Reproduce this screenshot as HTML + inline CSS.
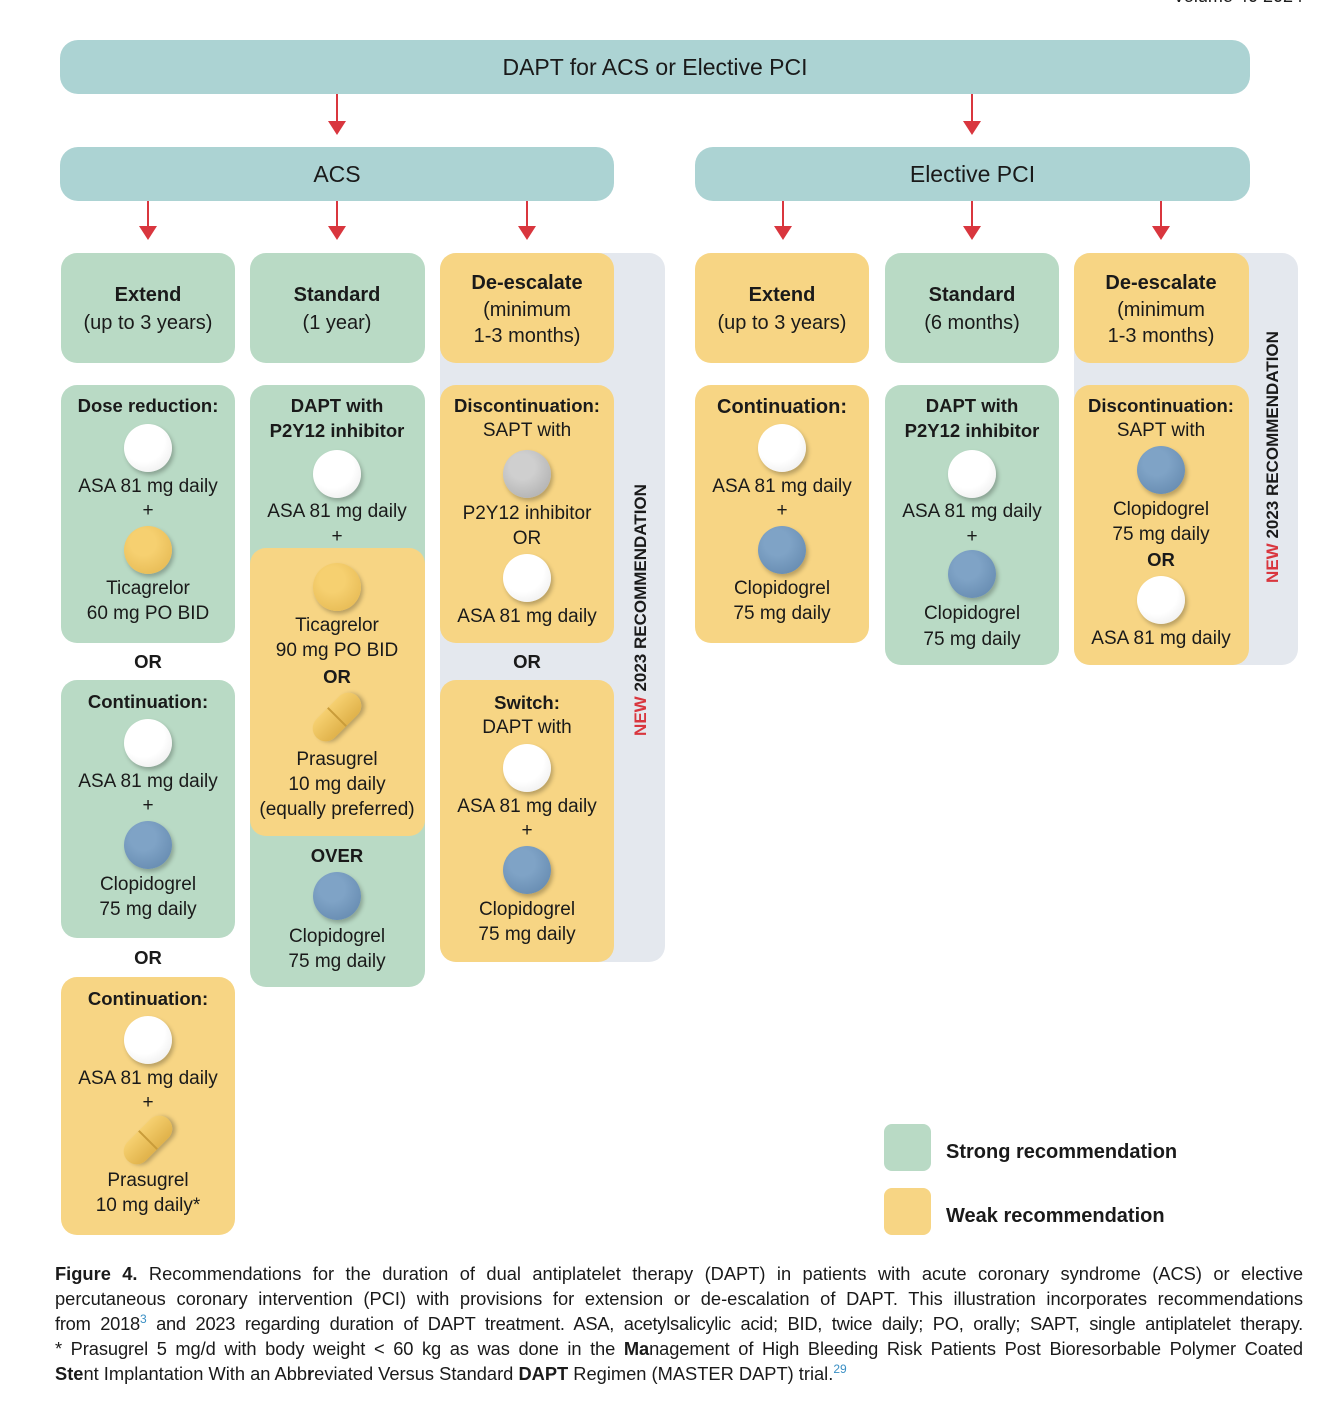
<!DOCTYPE html>
<html><head><meta charset="utf-8"><style>
*{margin:0;padding:0;box-sizing:border-box}
body{width:1334px;height:1403px;background:#fff;position:relative;overflow:hidden;font-family:"Liberation Sans",sans-serif;color:#1a1a1a}
div{position:absolute}
.bar{background:#acd3d3;border-radius:18px;text-align:center;font-size:23px;line-height:54px;height:54px}
.b{border-radius:16px}
.g{background:#b9dac5}.y{background:#f7d584}
.gp{background:#e4e8ee;border-radius:16px}
.t{width:200px;height:26px;line-height:26px;text-align:center;font-size:19px;white-space:nowrap}
.h{font-size:20px;font-weight:bold}
.bd{font-weight:bold;font-size:18.5px}
.p{width:48px;height:48px;border-radius:50%;box-shadow:2px 3px 4px rgba(0,0,0,.25)}
.w{background:radial-gradient(circle at 40% 35%,#fff 50%,#e6e6e6 100%)}
.yl{background:radial-gradient(circle at 40% 35%,#f6d070 30%,#e2b44c 100%)}
.bl{background:radial-gradient(circle at 40% 35%,#7fa3c6 30%,#5f84aa 100%)}
.gr{background:radial-gradient(circle at 40% 35%,#cfcfcf 30%,#a8a8a8 100%)}
.cap{width:58px;height:26px;border-radius:13px;background:linear-gradient(#f6d070,#e0b24a);transform:rotate(-45deg);box-shadow:2px 3px 4px rgba(0,0,0,.25)}
.cap:after{content:"";position:absolute;left:28px;top:0;width:1.5px;height:26px;background:#c99c3a}
.ar{width:2px;background:#d9363e}
.ah{width:0;height:0;border-left:9px solid transparent;border-right:9px solid transparent;border-top:14px solid #d9363e}
.v{transform:rotate(-90deg);transform-origin:center;font-weight:bold;font-size:17px;white-space:nowrap;width:300px;text-align:center;height:22px;line-height:22px}
.capt{left:55px;width:1248px;font-family:"Liberation Sans Narrow","Liberation Sans",sans-serif;font-size:18.3px;line-height:25px;height:25px;text-align:justify;text-align-last:justify;white-space:nowrap}
sup{color:#3a8fc4;font-size:12px;line-height:0;vertical-align:7px}
</style></head><body>
<div style="right:31px;top:-14px;font-size:18px">Volume 40 2024</div>

<div class="bar" style="left:60px;top:40px;width:1190px">DAPT for ACS or Elective PCI</div>
<div class="bar" style="left:60px;top:147px;width:554px">ACS</div>
<div class="bar" style="left:695px;top:147px;width:555px">Elective PCI</div>

<div class="ar" style="left:336px;top:94px;height:30px"></div><div class="ah" style="left:328px;top:121px"></div>
<div class="ar" style="left:971px;top:94px;height:30px"></div><div class="ah" style="left:963px;top:121px"></div>
<div class="ar" style="left:147px;top:201px;height:27px"></div><div class="ah" style="left:139px;top:226px"></div>
<div class="ar" style="left:336px;top:201px;height:27px"></div><div class="ah" style="left:328px;top:226px"></div>
<div class="ar" style="left:526px;top:201px;height:27px"></div><div class="ah" style="left:518px;top:226px"></div>
<div class="ar" style="left:782px;top:201px;height:27px"></div><div class="ah" style="left:774px;top:226px"></div>
<div class="ar" style="left:971px;top:201px;height:27px"></div><div class="ah" style="left:963px;top:226px"></div>
<div class="ar" style="left:1160px;top:201px;height:27px"></div><div class="ah" style="left:1152px;top:226px"></div>

<div class="gp" style="left:440px;top:253px;width:225px;height:709px"></div>
<div class="gp" style="left:1074px;top:253px;width:224px;height:412px"></div>

<div class="b g" style="left:61px;top:253px;width:174px;height:110px"></div>
<div class="b g" style="left:250px;top:253px;width:175px;height:110px"></div>
<div class="b y" style="left:440px;top:253px;width:174px;height:110px"></div>
<div class="b y" style="left:695px;top:253px;width:174px;height:110px"></div>
<div class="b g" style="left:885px;top:253px;width:174px;height:110px"></div>
<div class="b y" style="left:1074px;top:253px;width:175px;height:110px"></div>
<div class="t h" style="left:48px;top:282px">Extend</div><div class="t" style="left:48px;top:310px;font-size:20px">(up to 3 years)</div>
<div class="t h" style="left:237px;top:282px">Standard</div><div class="t" style="left:237px;top:310px;font-size:20px">(1 year)</div>
<div class="t h" style="left:427px;top:270px">De-escalate</div><div class="t" style="left:427px;top:297px;font-size:20px">(minimum</div><div class="t" style="left:427px;top:323px;font-size:20px">1-3 months)</div>
<div class="t h" style="left:682px;top:282px">Extend</div><div class="t" style="left:682px;top:310px;font-size:20px">(up to 3 years)</div>
<div class="t h" style="left:872px;top:282px">Standard</div><div class="t" style="left:872px;top:310px;font-size:20px">(6 months)</div>
<div class="t h" style="left:1061px;top:270px">De-escalate</div><div class="t" style="left:1061px;top:297px;font-size:20px">(minimum</div><div class="t" style="left:1061px;top:323px;font-size:20px">1-3 months)</div>

<div class="b g" style="left:61px;top:385px;width:174px;height:258px"></div>
<div class="t bd" style="left:48px;top:393px">Dose reduction:</div>
<div class="p w" style="left:124px;top:424px"></div>
<div class="t" style="left:48px;top:474px">ASA 81 mg daily</div>
<div class="t" style="left:48px;top:498px">+</div>
<div class="p yl" style="left:124px;top:526px"></div>
<div class="t" style="left:48px;top:576px">Ticagrelor</div>
<div class="t" style="left:48px;top:601px">60 mg PO BID</div>
<div class="t bd" style="left:48px;top:649px">OR</div>
<div class="b g" style="left:61px;top:680px;width:174px;height:258px"></div>
<div class="t bd" style="left:48px;top:689px">Continuation:</div>
<div class="p w" style="left:124px;top:719px"></div>
<div class="t" style="left:48px;top:769px">ASA 81 mg daily</div>
<div class="t" style="left:48px;top:793px">+</div>
<div class="p bl" style="left:124px;top:821px"></div>
<div class="t" style="left:48px;top:872px">Clopidogrel</div>
<div class="t" style="left:48px;top:897px">75 mg daily</div>
<div class="t bd" style="left:48px;top:945px">OR</div>
<div class="b y" style="left:61px;top:977px;width:174px;height:258px"></div>
<div class="t bd" style="left:48px;top:986px">Continuation:</div>
<div class="p w" style="left:124px;top:1016px"></div>
<div class="t" style="left:48px;top:1066px">ASA 81 mg daily</div>
<div class="t" style="left:48px;top:1090px">+</div>
<div class="cap" style="left:119px;top:1127px"></div>
<div class="t" style="left:48px;top:1168px">Prasugrel</div>
<div class="t" style="left:48px;top:1193px">10 mg daily*</div>

<div class="b g" style="left:250px;top:385px;width:175px;height:602px"></div>
<div class="b y" style="left:250px;top:548px;width:175px;height:288px"></div>
<div class="t bd" style="left:237px;top:393px">DAPT with</div>
<div class="t bd" style="left:237px;top:418px">P2Y12 inhibitor</div>
<div class="p w" style="left:313px;top:450px"></div>
<div class="t" style="left:237px;top:499px">ASA 81 mg daily</div>
<div class="t" style="left:237px;top:524px">+</div>
<div class="p yl" style="left:313px;top:563px"></div>
<div class="t" style="left:237px;top:613px">Ticagrelor</div>
<div class="t" style="left:237px;top:638px">90 mg PO BID</div>
<div class="t bd" style="left:237px;top:664px">OR</div>
<div class="cap" style="left:308px;top:704px"></div>
<div class="t" style="left:237px;top:747px">Prasugrel</div>
<div class="t" style="left:237px;top:772px">10 mg daily</div>
<div class="t" style="left:237px;top:797px">(equally preferred)</div>
<div class="t bd" style="left:237px;top:843px">OVER</div>
<div class="p bl" style="left:313px;top:872px"></div>
<div class="t" style="left:237px;top:924px">Clopidogrel</div>
<div class="t" style="left:237px;top:949px">75 mg daily</div>

<div class="b y" style="left:440px;top:385px;width:174px;height:258px"></div>
<div class="t bd" style="left:427px;top:393px">Discontinuation:</div>
<div class="t" style="left:427px;top:418px">SAPT with</div>
<div class="p gr" style="left:503px;top:450px"></div>
<div class="t" style="left:427px;top:501px">P2Y12 inhibitor</div>
<div class="t" style="left:427px;top:526px">OR</div>
<div class="p w" style="left:503px;top:554px"></div>
<div class="t" style="left:427px;top:604px">ASA 81 mg daily</div>
<div class="t bd" style="left:427px;top:649px">OR</div>
<div class="b y" style="left:440px;top:680px;width:174px;height:282px"></div>
<div class="t bd" style="left:427px;top:690px">Switch:</div>
<div class="t" style="left:427px;top:715px">DAPT with</div>
<div class="p w" style="left:503px;top:744px"></div>
<div class="t" style="left:427px;top:794px">ASA 81 mg daily</div>
<div class="t" style="left:427px;top:818px">+</div>
<div class="p bl" style="left:503px;top:846px"></div>
<div class="t" style="left:427px;top:897px">Clopidogrel</div>
<div class="t" style="left:427px;top:922px">75 mg daily</div>
<div class="v" style="left:491px;top:599px"><span style="color:#d9363e">NEW</span> 2023 RECOMMENDATION</div>

<div class="b y" style="left:695px;top:385px;width:174px;height:258px"></div>
<div class="t bd" style="left:682px;top:394px;font-size:20px">Continuation:</div>
<div class="p w" style="left:758px;top:424px"></div>
<div class="t" style="left:682px;top:474px">ASA 81 mg daily</div>
<div class="t" style="left:682px;top:498px">+</div>
<div class="p bl" style="left:758px;top:526px"></div>
<div class="t" style="left:682px;top:576px">Clopidogrel</div>
<div class="t" style="left:682px;top:601px">75 mg daily</div>

<div class="b g" style="left:885px;top:385px;width:174px;height:280px"></div>
<div class="t bd" style="left:872px;top:393px">DAPT with</div>
<div class="t bd" style="left:872px;top:418px">P2Y12 inhibitor</div>
<div class="p w" style="left:948px;top:450px"></div>
<div class="t" style="left:872px;top:499px">ASA 81 mg daily</div>
<div class="t" style="left:872px;top:524px">+</div>
<div class="p bl" style="left:948px;top:550px"></div>
<div class="t" style="left:872px;top:601px">Clopidogrel</div>
<div class="t" style="left:872px;top:627px">75 mg daily</div>

<div class="b y" style="left:1074px;top:385px;width:175px;height:280px"></div>
<div class="t bd" style="left:1061px;top:393px">Discontinuation:</div>
<div class="t" style="left:1061px;top:418px">SAPT with</div>
<div class="p bl" style="left:1137px;top:446px"></div>
<div class="t" style="left:1061px;top:497px">Clopidogrel</div>
<div class="t" style="left:1061px;top:522px">75 mg daily</div>
<div class="t bd" style="left:1061px;top:547px">OR</div>
<div class="p w" style="left:1137px;top:576px"></div>
<div class="t" style="left:1061px;top:626px">ASA 81 mg daily</div>
<div class="v" style="left:1123px;top:446px"><span style="color:#d9363e">NEW</span> 2023 RECOMMENDATION</div>

<div class="g" style="left:884px;top:1124px;width:47px;height:47px;border-radius:8px"></div>
<div class="y" style="left:884px;top:1188px;width:47px;height:47px;border-radius:8px"></div>
<div style="left:946px;top:1139px;font-size:20px;font-weight:bold;line-height:26px">Strong recommendation</div>
<div style="left:946px;top:1203px;font-size:20px;font-weight:bold;line-height:26px">Weak recommendation</div>

<div class="capt" style="top:1261px"><b>Figure 4.</b> Recommendations for the duration of dual antiplatelet therapy (DAPT) in patients with acute coronary syndrome (ACS) or elective</div>
<div class="capt" style="top:1286px">percutaneous coronary intervention (PCI) with provisions for extension or de-escalation of DAPT. This illustration incorporates recommendations</div>
<div class="capt" style="top:1311px;letter-spacing:-0.25px">from 2018<sup>3</sup> and 2023 regarding duration of DAPT treatment. ASA, acetylsalicylic acid; BID, twice daily; PO, orally; SAPT, single antiplatelet therapy.</div>
<div class="capt" style="top:1336px;letter-spacing:-0.1px">* Prasugrel 5 mg/d with body weight &lt; 60 kg as was done in the <b>Ma</b>nagement of High Bleeding Risk Patients Post Bioresorbable Polymer Coated</div>
<div class="capt" style="top:1361px;text-align-last:left"><b>Ste</b>nt Implantation With an Abb<b>r</b>eviated Versus Standard <b>DAPT</b> Regimen (MASTER DAPT) trial.<sup>29</sup></div>
</body></html>
